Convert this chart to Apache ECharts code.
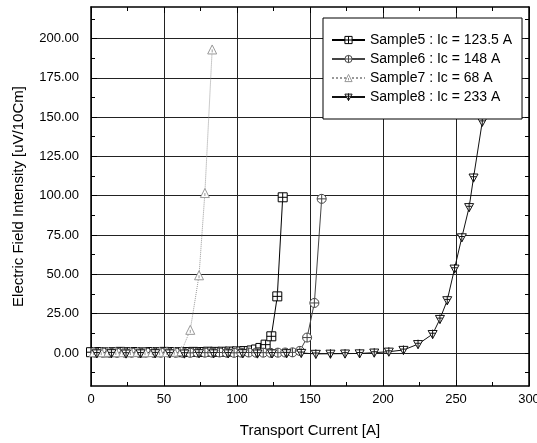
<!DOCTYPE html>
<html>
<head>
<meta charset="utf-8">
<script src="https://cdn.jsdelivr.net/npm/echarts@6/dist/echarts.min.js"></script>
<style>
html, body { margin: 0; padding: 0; background: #fff; }
#chart { width: 537px; height: 443px; }
</style>
</head>
<body>
<div id="chart"></div>
<script>
// series names (legend)
const seriesNames = ['Sample5 : Ic = 123.5 A', 'Sample6 : Ic = 148 A', 'Sample7 : Ic = 68 A', 'Sample8 : Ic = 233 A'];

// Sample5 - squares
const sample5Current = [0, 5, 10, 15, 20, 25, 30, 35, 40, 45, 50, 55, 60, 65, 70, 75, 80, 85, 90, 95, 100, 105, 110, 113, 116, 119.6, 123.5, 127.6, 131.3];
const sample5Field = [0.5, 0.6, 0.4, 0.5, 0.7, 0.5, 0.6, 0.4, 0.6, 0.5, 0.7, 0.6, 0.5, 0.6, 0.7, 0.6, 0.8, 0.7, 0.8, 0.9, 1.0, 1.2, 1.6, 2.2, 3.2, 5.3, 10.6, 36, 99];

// Sample6 - circles
const sample6Current = [3, 8, 13, 18, 23, 28, 33, 38, 43, 48, 53, 58, 63, 68, 73, 78, 83, 88, 93, 98, 103, 108, 113, 118, 123, 128, 133, 138, 143, 148, 153, 158];
const sample6Field = [0.2, 0.3, 0.2, 0.1, 0.3, 0.2, 0.2, 0.3, 0.1, 0.2, 0.3, 0.2, 0.2, 0.1, 0.3, 0.2, 0.2, 0.3, 0.2, 0.1, 0.2, 0.3, 0.2, 0.2, 0.1, 0.2, 0.3, 0.4, 1.3, 9.8, 31.8, 98];

// Sample7 - triangles
const sample7Current = [2, 7, 12, 17, 22, 27, 32, 37, 42, 47, 52, 57, 62, 68, 74, 78, 83];
const sample7Field = [0.6, 0.5, 0.7, 0.6, 0.5, 0.6, 0.7, 0.5, 0.6, 0.7, 0.6, 0.8, 1.2, 14.7, 49.4, 101.7, 193];

// Sample8 - inverted triangles
const sample8Current = [4, 14, 24, 34, 44, 54, 64, 74, 84, 94, 104, 114, 124, 134, 144, 154, 164, 174, 184, 194, 204, 214, 224, 234, 239, 244, 249, 254, 259, 262, 268, 273];
const sample8Field = [-0.3, -0.2, -0.4, -0.3, -0.2, -0.3, -0.4, -0.2, -0.3, -0.3, -0.2, -0.4, -0.3, -0.2, 0, -0.6, -0.5, -0.4, -0.3, 0.2, 0.8, 1.9, 5.6, 12, 21.6, 33.5, 53.6, 73.5, 92.7, 111.5, 147, 185];

// axis ticks
const yMajorTicks = [0, 25, 50, 75, 100, 125, 150, 175, 200];
const yMinorTicks = [-12.5, 12.5, 37.5, 62.5, 87.5, 112.5, 137.5, 162.5, 187.5, 212.5];
const yMin = -21, yMax = 220;
const xMin = 0, xMax = 300, xStep = 50;

const pair = (xs, ys) => xs.map((x, i) => [x, ys[i]]);

const symSquare = 'path://M0,0L10,0L10,10L0,10ZM5,0L5,10M0,5L10,5';
const symCircle = 'path://M0,5A5,5 0 1,0 10,5A5,5 0 1,0 0,5ZM5,0L5,10M0,5L10,5';
const symTri = 'path://M5,0L10,9L0,9ZM5,4.5L5,7.5';
const symTriDown = 'path://M0,1L10,1L5,10ZM5,0L5,10M2,4L8,4';

const symbols = [symSquare, symCircle, symTri, symTriDown];
const colors = ['#000', '#444', '#999', '#111'];
const lineTypes = ['solid', 'solid', 'dotted', 'solid'];

const fontFam = '"Liberation Sans", Arial, sans-serif';

function mkSeries(idx, data) {
    return {
        name: seriesNames[idx],
        type: 'line',
        data: data,
        symbol: symbols[idx],
        symbolSize: 9,
        showAllSymbol: true,
        xAxisIndex: 0,
        yAxisIndex: 0,
        itemStyle: {color: '#fff', borderColor: colors[idx], borderWidth: 1},
        lineStyle: {color: colors[idx], width: 1, type: lineTypes[idx]},
        emphasis: {disabled: true},
        animation: false
    };
}

const chart = echarts.init(document.getElementById('chart'), null, {renderer: 'canvas'});
const option = {
    backgroundColor: '#fff',
    animation: false,
    grid: {left: 91, right: 8, top: 7, bottom: 57, outerBoundsMode: 'none'},
    legend: {
        orient: 'vertical',
        left: 323,
        top: 18,
        padding: [15, 10, 15, 8],
        itemWidth: 33,
        itemHeight: 9,
        itemGap: 5,
        backgroundColor: '#fff',
        borderColor: '#000',
        borderWidth: 1,
        textStyle: {fontFamily: fontFam, fontSize: 14, color: '#000', lineHeight: 14},
        data: seriesNames.map((n, i) => ({
            name: n,
            itemStyle: {color: '#fff', borderColor: colors[i], borderWidth: 1}
        }))
    },
    xAxis: [
        {
            type: 'value', position: 'bottom', min: xMin, max: xMax, interval: xStep,
            name: 'Transport Current [A]', nameLocation: 'middle', nameGap: 37,
            nameTextStyle: {fontFamily: fontFam, fontSize: 15, color: '#000'},
            axisLine: {show: true, onZero: false, lineStyle: {color: '#000', width: 1.5}},
            axisTick: {show: true, inside: true, length: 6, lineStyle: {color: '#000'}},
            minorTick: {show: true, splitNumber: 2, length: 4, lineStyle: {color: '#000'}},
            axisLabel: {fontFamily: fontFam, fontSize: 13, color: '#000', margin: 7},
            splitLine: {show: true, lineStyle: {color: '#222', width: 1}}
        },
        {
            type: 'value', position: 'top', min: xMin, max: xMax, interval: xStep,
            axisLine: {show: true, onZero: false, lineStyle: {color: '#000', width: 1.5}},
            axisTick: {show: true, inside: true, length: 6, lineStyle: {color: '#000'}},
            minorTick: {show: true, splitNumber: 2, length: 4, lineStyle: {color: '#000'}},
            axisLabel: {show: false},
            splitLine: {show: false}
        }
    ],
    yAxis: [
        {
            type: 'value', position: 'left', min: yMin, max: yMax,
            name: 'Electric Field Intensity [uV/10Cm]', nameLocation: 'middle', nameGap: 65,
            nameTextStyle: {fontFamily: fontFam, fontSize: 15, color: '#000'},
            axisLine: {show: true, onZero: false, lineStyle: {color: '#000', width: 1.5}},
            axisTick: {show: true, inside: true, length: 6, customValues: yMajorTicks, lineStyle: {color: '#000'}},
            axisLabel: {
                fontFamily: fontFam, fontSize: 13, color: '#000', margin: 12,
                customValues: yMajorTicks,
                formatter: v => v.toFixed(2)
            },
            splitLine: {show: true, lineStyle: {color: '#222', width: 1}}
        },
        {
            type: 'value', position: 'left', min: yMin, max: yMax,
            axisLine: {show: false},
            axisTick: {show: true, inside: true, length: 4, customValues: yMinorTicks, lineStyle: {color: '#000'}},
            axisLabel: {show: false},
            splitLine: {show: false}
        },
        {
            type: 'value', position: 'right', min: yMin, max: yMax,
            axisLine: {show: true, onZero: false, lineStyle: {color: '#000', width: 1.5}},
            axisTick: {show: true, inside: true, length: 4, customValues: yMajorTicks.concat(yMinorTicks), lineStyle: {color: '#000'}},
            axisLabel: {show: false},
            splitLine: {show: false}
        }
    ],
    series: [
        mkSeries(0, pair(sample5Current, sample5Field)),
        mkSeries(1, pair(sample6Current, sample6Field)),
        mkSeries(2, pair(sample7Current, sample7Field)),
        mkSeries(3, pair(sample8Current, sample8Field))
    ]
};
chart.setOption(option);
</script>
</body>
</html>
